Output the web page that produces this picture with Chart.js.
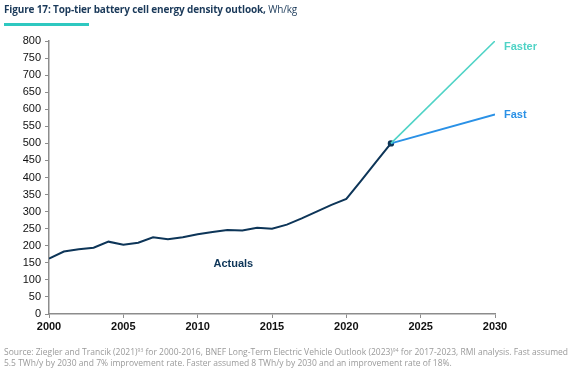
<!DOCTYPE html>
<html>
<head>
<meta charset="utf-8">
<script src="https://cdn.jsdelivr.net/npm/chart.js@4/dist/chart.umd.min.js"></script>
<style>
  html, body { margin: 0; padding: 0; background: #fff; }
  #wrap { position: relative; width: 576px; height: 372px; overflow: hidden; }
  #c { position: absolute; left: 0; top: 0; }
  #title { position: absolute; left: 4px; top: 2px; font-family: "Open Sans", sans-serif; font-size: 10px; color: #1b3a5a; white-space: nowrap; letter-spacing: -0.15px; }
  #title b { font-weight: 700; }
  #bar { position: absolute; left: 4px; top: 23px; width: 85px; height: 3px; background: #2ec8c0; }
  #source { position: absolute; left: 4px; top: 347px; font-family: "Open Sans", sans-serif; font-size: 8.5px; line-height: 10.5px; color: #9a9a9a; white-space: nowrap; }
  #source sup { font-size: 5px; vertical-align: 3px; line-height: 0; }
</style>
</head>
<body>
<div id="wrap">
  <canvas id="c" width="576" height="372"></canvas>
  <div id="title"><b>Figure 17: Top-tier battery cell energy density outlook,</b> Wh/kg</div>
  <div id="bar"></div>
  <div id="source">Source: Ziegler and Trancik (2021)<sup>93</sup> for 2000-2016, BNEF Long-Term Electric Vehicle Outlook (2023)<sup>94</sup> for 2017-2023, RMI analysis. Fast assumed<br>5.5 TWh/y by 2030 and 7% improvement rate. Faster assumed 8 TWh/y by 2030 and an improvement rate of 18%.</div>
</div>
<script>
// ---- data ----
const actualYears  = [2000,2001,2002,2003,2004,2005,2006,2007,2008,2009,2010,2011,2012,2013,2014,2015,2016,2017,2018,2019,2020,2021,2022,2023];
const actualValues = [162, 183, 190, 194, 212, 203, 209, 225, 219, 225, 234, 240, 246, 245, 253, 250, 262, 280, 300, 320, 337, 391, 446, 500];
const fastYears    = [2023, 2030];
const fastValues   = [500, 585];
const fasterYears  = [2023, 2030];
const fasterValues = [500, 800];
const xTicks = [2000, 2005, 2010, 2015, 2020, 2025, 2030];
const seriesLabels = { actual: "Actuals", fast: "Fast", faster: "Faster" };

const navy = "#0d3558";
const teal = "#4fd3c6";
const blue = "#2a91e6";

const toXY = (xs, ys) => xs.map((x, i) => ({ x: x, y: ys[i] }));

const labelPlugin = {
  id: "seriesLabels",
  afterDatasetsDraw(chart) {
    const ctx = chart.ctx;
    const xs = chart.scales.x, ys = chart.scales.y;
    ctx.save();
    ctx.font = "bold 11px 'Liberation Sans', Arial, sans-serif";
    ctx.textBaseline = "middle";
    ctx.textAlign = "left";
    ctx.fillStyle = teal;
    ctx.fillText(seriesLabels.faster, xs.getPixelForValue(fasterYears[1]) + 9, ys.getPixelForValue(fasterValues[1]) + 6);
    ctx.fillStyle = blue;
    ctx.fillText(seriesLabels.fast, xs.getPixelForValue(fastYears[1]) + 9, ys.getPixelForValue(fastValues[1]) + 1);
    ctx.fillStyle = navy;
    ctx.textAlign = "center";
    ctx.fillText(seriesLabels.actual, xs.getPixelForValue(2012.4), ys.getPixelForValue(147));
    ctx.restore();
  }
};

new Chart(document.getElementById("c"), {
  type: "line",
  data: {
    datasets: [
      { label: seriesLabels.faster, data: toXY(fasterYears, fasterValues), borderColor: teal, borderWidth: 1.6, pointRadius: 0, tension: 0 },
      { label: seriesLabels.fast, data: toXY(fastYears, fastValues), borderColor: blue, borderWidth: 2, pointRadius: 0, tension: 0 },
      { label: seriesLabels.actual, data: toXY(actualYears, actualValues), borderColor: navy, borderWidth: 2,
        pointRadius: actualYears.map((y, i) => i === actualYears.length - 1 ? 3.2 : 0),
        pointBackgroundColor: navy, pointBorderWidth: 0, tension: 0 }
    ]
  },
  options: {
    responsive: false,
    animation: false,
    devicePixelRatio: 1,
    layout: { padding: { left: 0, right: 81, top: 41, bottom: 36 } },
    plugins: { legend: { display: false }, tooltip: { enabled: false } },
    scales: {
      x: {
        type: "linear", min: 2000, max: 2030,
        afterBuildTicks(s) { s.ticks = xTicks.map(v => ({ value: v })); },
        afterFit(s) { s.height = 22; },
        border: { color: "#8c8c8c", width: 1.5 },
        grid: { display: true, drawOnChartArea: false, drawTicks: true, tickLength: 4, color: "#8c8c8c", lineWidth: 1 },
        ticks: { color: "#111", padding: 2, font: { family: "'Liberation Sans', Arial, sans-serif", size: 11, weight: "bold" }, callback: v => String(v) }
      },
      y: {
        min: 0, max: 800,
        afterFit(s) { s.width = 49; },
        border: { color: "#8c8c8c", width: 1.5 },
        grid: { display: true, drawOnChartArea: false, drawTicks: true, tickLength: 4, color: "#8c8c8c", lineWidth: 1 },
        ticks: { stepSize: 50, color: "#111", padding: 4, font: { family: "'Liberation Sans', Arial, sans-serif", size: 11 } }
      }
    }
  },
  plugins: [labelPlugin]
});
</script>
</body>
</html>
